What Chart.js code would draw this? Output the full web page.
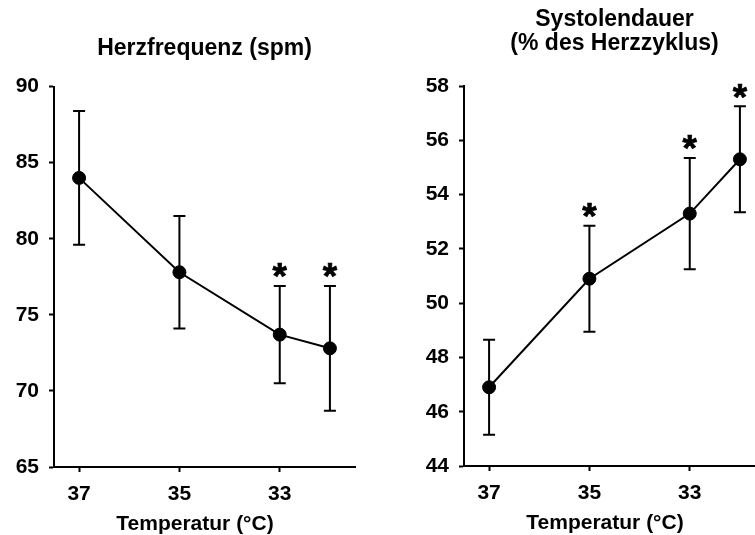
<!DOCTYPE html>
<html><head><meta charset="utf-8">
<script src="https://cdn.jsdelivr.net/npm/chart.js@4"></script>
<style>
html,body{margin:0;padding:0;background:#fff;overflow:hidden;width:755px;height:535px;}
#wrap{position:relative;width:755px;height:535px;overflow:hidden;background:#fff;}
canvas{position:absolute;top:0;}
#c1{left:0;} #c2{left:377px;}
</style></head><body>
<div id="wrap"><canvas id="c1" width="377" height="535"></canvas><canvas id="c2" width="400" height="535"></canvas></div>
<script>
// ---- data ----
const temperatures = [37, 35, 33, 32];
const xTickValues = [37, 35, 33];
const hrMean = [84.0, 77.8, 73.7, 72.8];
const hrSd = [4.4, 3.7, 3.2, 4.1];
const hrSignificant = [false, false, true, true];
const hrTicks = [65, 70, 75, 80, 85, 90];
const sysMean = [46.9, 50.9, 53.3, 55.3];
const sysSd = [1.75, 1.95, 2.05, 1.95];
const sysSignificant = [false, true, true, true];
const sysTicks = [44, 46, 48, 50, 52, 54, 56, 58];
const hrTitle = 'Herzfrequenz (spm)';
const sysTitle = ['Systolendauer', '(% des Herzzyklus)'];
const xTitle = 'Temperatur (°C)';
const starText = '*';

const FONT = 'Arial, "Liberation Sans", Helvetica, sans-serif';

const errorBarPlugin = {
  id: 'errorBars',
  beforeDatasetsDraw(chart) {
    const {ctx, scales: {x, y}} = chart;
    const ds = chart.data.datasets[0];
    ctx.save();
    ctx.strokeStyle = '#000';
    ctx.lineWidth = 2;
    ds.data.forEach((p, i) => {
      const sd = ds.sd[i];
      const px = x.getPixelForValue(p.x);
      const yt = y.getPixelForValue(p.y + sd);
      const yb = y.getPixelForValue(p.y - sd);
      ctx.beginPath();
      ctx.moveTo(px, yt); ctx.lineTo(px, yb);
      ctx.moveTo(px - 6, yt); ctx.lineTo(px + 6, yt);
      ctx.moveTo(px - 6, yb); ctx.lineTo(px + 6, yb);
      ctx.stroke();
    });
    ctx.restore();
  },
  afterDatasetsDraw(chart) {
    const {ctx, scales: {x, y}} = chart;
    const ds = chart.data.datasets[0];
    ctx.save();
    ctx.fillStyle = '#000';
    ctx.strokeStyle = '#000';
    ctx.lineWidth = 0.7;
    ctx.font = 'bold 37px ' + FONT;
    ctx.textAlign = 'center';
    ctx.textBaseline = 'alphabetic';
    const m = ctx.measureText(starText);
    const asc = m.actualBoundingBoxAscent, desc = m.actualBoundingBoxDescent;
    ds.data.forEach((p, i) => {
      if (!ds.sig[i]) return;
      const px = x.getPixelForValue(p.x);
      const yt = y.getPixelForValue(p.y + ds.sd[i]);
      const yc = yt - 15.5;
      const by = yc - (desc - asc) / 2;
      ctx.fillText(starText, px, by);
      ctx.strokeText(starText, px, by);
    });
    ctx.restore();
  },
  afterDraw(chart) {
    const {ctx, chartArea} = chart;
    ctx.save();
    ctx.fillStyle = '#000';
    ctx.font = 'bold 21px ' + FONT;
    ctx.textAlign = 'center';
    ctx.textBaseline = 'alphabetic';
    ctx.fillText(xTitle, (chartArea.left + chartArea.right) / 2 - 9.5, chartArea.bottom + 63);
    ctx.restore();
  }
};

function makeChart(id, mean, sd, sig, yTicks, title, titleFont, titlePad, padRight, yWidth, xHeight) {
  return new Chart(document.getElementById(id), {
    type: 'line',
    data: {
      datasets: [{
        data: temperatures.map((t, i) => ({x: t, y: mean[i]})),
        sd: sd, sig: sig,
        borderColor: '#000', borderWidth: 2,
        pointRadius: 6.5, pointBackgroundColor: '#000', pointBorderColor: '#000', pointBorderWidth: 1,
        fill: false, tension: 0
      }]
    },
    options: {
      responsive: false, animation: false, devicePixelRatio: 1,
      layout: {padding: {left: 0, top: 0, bottom: 0, right: padRight}},
      plugins: {
        legend: {display: false}, tooltip: {enabled: false},
        title: {display: true, text: title, fullSize: false, color: '#000',
          font: titleFont, padding: titlePad}
      },
      scales: {
        x: {
          type: 'linear', reverse: true, min: 31.5, max: 37.5,
          afterBuildTicks: s => { s.ticks = xTickValues.map(v => ({value: v})); },
          afterFit: s => { s.height = xHeight; },
          grid: {display: true, drawOnChartArea: false, drawTicks: true, tickLength: 5, tickWidth: 2, tickColor: '#000'},
          border: {display: true, color: '#000', width: 2},
          ticks: {color: '#000', font: {family: FONT, size: 21, weight: 'bold'}, padding: 10, maxRotation: 0, autoSkip: false,
            callback: v => String(v)}
        },
        y: {
          type: 'linear', min: yTicks[0], max: yTicks[yTicks.length - 1],
          afterBuildTicks: s => { s.ticks = yTicks.map(v => ({value: v})); },
          afterFit: s => { s.width = yWidth; },
          grid: {display: true, drawOnChartArea: false, drawTicks: true, tickLength: 5, tickWidth: 2, tickColor: '#000'},
          border: {display: true, color: '#000', width: 2},
          ticks: {color: '#000', font: {family: FONT, size: 21, weight: 'bold'}, padding: 10, autoSkip: false,
            callback: v => String(v)}
        }
      }
    },
    plugins: [errorBarPlugin]
  });
}

makeChart('c1', hrMean, hrSd, hrSignificant, hrTicks, hrTitle,
  {family: FONT, size: 23, weight: 'bold', lineHeight: 1.2},
  {top: 34.5, bottom: 24.5}, 22, 54, 68);
makeChart('c2', sysMean, sysSd, sysSignificant, sysTicks, sysTitle,
  {family: FONT, size: 23, weight: 'bold', lineHeight: 24 / 23},
  {top: 8, bottom: 30}, 12, 87, 69);
</script>
</body></html>
